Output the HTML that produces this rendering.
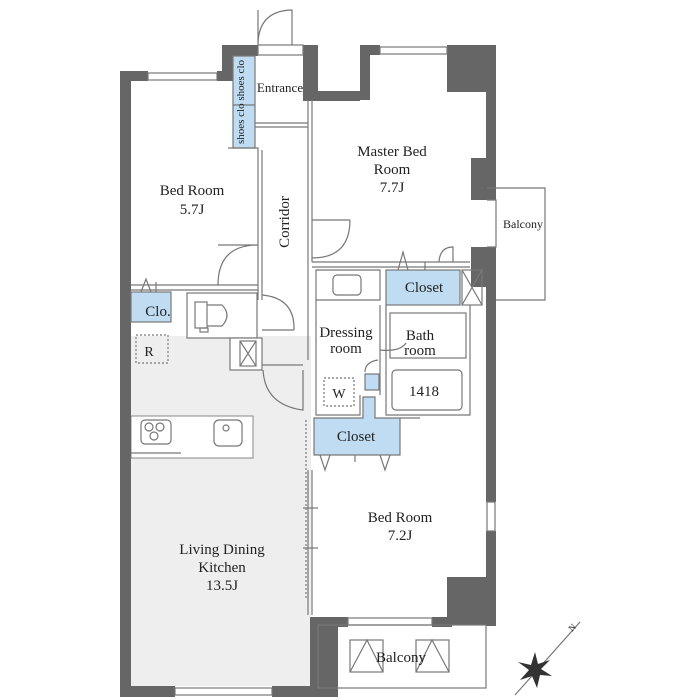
<!DOCTYPE html>
<html><head><meta charset="utf-8"><style>
html,body{margin:0;padding:0;background:#fff;}
svg{display:block;}
text{font-family:"Liberation Serif",serif;fill:#222;}
</style></head><body>
<svg width="700" height="700" viewBox="0 0 700 700">
<!-- LDK fill -->
<rect x="131" y="336" width="180" height="350" fill="#eeeeee"/>
<rect x="131" y="416" width="122" height="42" fill="#fff" stroke="#888" stroke-width="1"/>
<!-- Outer dark walls -->
<g fill="#666">
<rect x="120" y="71" width="11" height="626"/>
<rect x="120" y="71" width="28" height="10"/>
<rect x="217" y="71" width="10" height="10"/>
<rect x="222" y="45" width="36" height="11"/>
<rect x="222" y="45" width="11" height="36"/>
<rect x="303" y="45" width="15" height="55"/>
<rect x="303" y="91" width="57" height="10"/>
<rect x="360" y="45" width="20" height="10"/>
<rect x="360" y="45" width="10" height="55"/>
<rect x="447" y="45" width="49" height="47"/>
<rect x="486" y="45" width="10" height="155"/>
<rect x="471" y="158" width="25" height="42"/>
<rect x="471" y="247" width="25" height="40"/>
<rect x="486" y="247" width="10" height="255"/>
<rect x="486" y="531" width="10" height="95"/>
<rect x="447" y="577" width="49" height="48"/>
<rect x="120" y="686" width="55" height="11"/>
<rect x="272" y="686" width="66" height="11"/>
<rect x="310" y="617" width="28" height="80"/>
<rect x="338" y="617" width="10" height="10"/>
<rect x="432" y="617" width="20" height="10"/>
</g>
<g fill="none" stroke="#777" stroke-width="1.2">
<rect x="148" y="73" width="69" height="7"/>
<rect x="380" y="47" width="67" height="7"/>
<rect x="175" y="688" width="97" height="7"/>
<rect x="348" y="618" width="84" height="7"/>
<rect x="487" y="502" width="8" height="29"/>
<path d="M258 45 L258 10 M258 45 Q258 12 290 10 L292 10 L292 45"/>
<rect x="258" y="45" width="45" height="10"/>
<rect x="233" y="56" width="22" height="92" fill="#bfdcf2"/>
<line x1="233" y1="105" x2="255" y2="105"/>
<line x1="255" y1="123" x2="308" y2="123"/><line x1="255" y1="127" x2="308" y2="127"/>
<path d="M228 148 L258 148 L258 300 M262 150 L262 300 M308 100 L308 360 M312 100 L312 262 M312 262 L470 262 M312 267 L470 267"/>
<path d="M131 285 L258 285 M131 290 L258 290"/>
<path d="M218 245 L258 245 M218 285 Q218 245 258 245"/>
<path d="M312 220 L350 220 M350 220 Q350 258 312 258"/>
<rect x="131" y="292" width="40" height="30" fill="#bfdcf2"/>
<path d="M141 292 L146 279 L151 292 M156 282 L156 292"/>
<rect x="187" y="293" width="70" height="45" fill="#fff"/>
<rect x="195" y="302" width="12" height="26"/><path d="M207 305 L222 305 Q232 315 222 326 L207 326"/>
<rect x="200" y="328" width="8" height="4"/>
<path d="M262 295 Q295 298 294 330 M262 330 L294 330"/>
<rect x="136" y="335" width="32" height="28" stroke-dasharray="2,2"/>
<rect x="230" y="338" width="32" height="32" fill="#fff"/>
<rect x="240" y="341" width="16" height="25"/><path d="M240 341 L256 366 M256 341 L240 366"/>
<path d="M262 365 L303 365"/>
<path d="M263 370 Q265 405 303 410 L303 370"/>
<path d="M306 420 L306 600" stroke-dasharray="2,2"/>
<path d="M308 470 L308 615 M312 470 L312 615"/>
<line x1="303" y1="508" x2="318" y2="508"/><line x1="303" y1="548" x2="318" y2="548"/>
<rect x="141" y="420" width="30" height="24" rx="4"/>
<circle cx="149" cy="427" r="4"/><circle cx="160" cy="427" r="4"/><circle cx="154" cy="436" r="4"/>
<rect x="214" y="420" width="28" height="26" rx="5"/><circle cx="226" cy="428" r="3"/>
<line x1="131" y1="453" x2="181" y2="453"/>
<rect x="386" y="270" width="74" height="35" fill="#bfdcf2"/>
<path d="M398 270 L403 252 L408 270 M425 262 L425 270 M439 262 Q440 247 453 247 L453 262"/>
<rect x="462" y="270" width="20" height="35"/><path d="M462 270 L482 305 M482 270 L462 305"/>
<path d="M316 270 L380 270 L380 300 L316 300 Z"/>
<rect x="333" y="275" width="28" height="20" rx="4"/>
<path d="M316 300 L316 415 L360 415 L360 395 M380 305 L380 395 M386 305 L386 415 L470 415 L470 305"/>
<rect x="324" y="378" width="30" height="28" stroke-dasharray="2,2"/>
<rect x="365" y="374" width="14" height="16" fill="#bfdcf2"/>
<path d="M365 372 Q365 362 378 360"/>
<rect x="390" y="313" width="76" height="45"/>
<rect x="392" y="370" width="70" height="40" rx="4"/>
<path d="M380 350 Q400 352 406 343"/>
<path d="M363 397 L375 397 L375 418 L400 418 L400 455 L314 455 L314 418 L363 418 Z" fill="#bfdcf2"/>
<path d="M320 455 L325 470 L330 455 M355 455 L355 462 M380 455 L385 470 L390 455 M400 418 L420 418"/>
<rect x="318" y="625" width="168" height="63"/>
<rect x="350" y="640" width="33" height="32"/><path d="M350 672 L367 640 L383 672"/>
<rect x="416" y="640" width="33" height="32"/><path d="M416 672 L432 640 L449 672"/>
<path d="M487 188 L545 188 L545 300 L496 300"/>
<path d="M487 200 L496 200 L496 247 L487 247"/>
<path d="M515 695 L580 622"/>
</g>
<g fill="#333">
<polygon points="535,652 538,664 550,660 541,669 552,676 540,675 537,688 532,676 520,680 529,670 518,662 531,665"/>
</g>
<text x="572" y="632" font-size="9" transform="rotate(-45 572 632)">N</text>
<text x="280" y="92" font-size="13" text-anchor="middle">Entrance</text>
<text x="244" y="102" font-size="11" text-anchor="middle" transform="rotate(-90 244 102)">shoes clo shoes clo</text>
<text x="392" y="156" font-size="15" text-anchor="middle">Master Bed</text>
<text x="392" y="174" font-size="15" text-anchor="middle">Room</text>
<text x="392" y="192" font-size="15" text-anchor="middle">7.7J</text>
<text x="192" y="195" font-size="15" text-anchor="middle">Bed Room</text>
<text x="192" y="214" font-size="15" text-anchor="middle">5.7J</text>
<text x="289" y="222" font-size="15" text-anchor="middle" transform="rotate(-90 289 222)">Corridor</text>
<text x="523" y="228" font-size="12" text-anchor="middle">Balcony</text>
<text x="424" y="292" font-size="15" text-anchor="middle">Closet</text>
<text x="158" y="316" font-size="15" text-anchor="middle">Clo.</text>
<text x="346" y="337" font-size="15" text-anchor="middle">Dressing</text>
<text x="346" y="353" font-size="15" text-anchor="middle">room</text>
<text x="420" y="340" font-size="15" text-anchor="middle">Bath</text>
<text x="420" y="355" font-size="15" text-anchor="middle">room</text>
<text x="424" y="396" font-size="15" text-anchor="middle">1418</text>
<text x="339" y="398" font-size="14" text-anchor="middle">W</text>
<text x="149" y="356" font-size="14" text-anchor="middle">R</text>
<text x="356" y="441" font-size="15" text-anchor="middle">Closet</text>
<text x="400" y="522" font-size="15" text-anchor="middle">Bed Room</text>
<text x="400" y="540" font-size="15" text-anchor="middle">7.2J</text>
<text x="222" y="554" font-size="15" text-anchor="middle">Living Dining</text>
<text x="222" y="572" font-size="15" text-anchor="middle">Kitchen</text>
<text x="222" y="590" font-size="15" text-anchor="middle">13.5J</text>
<text x="401" y="662" font-size="15" text-anchor="middle">Balcony</text>
</svg>
</body></html>
